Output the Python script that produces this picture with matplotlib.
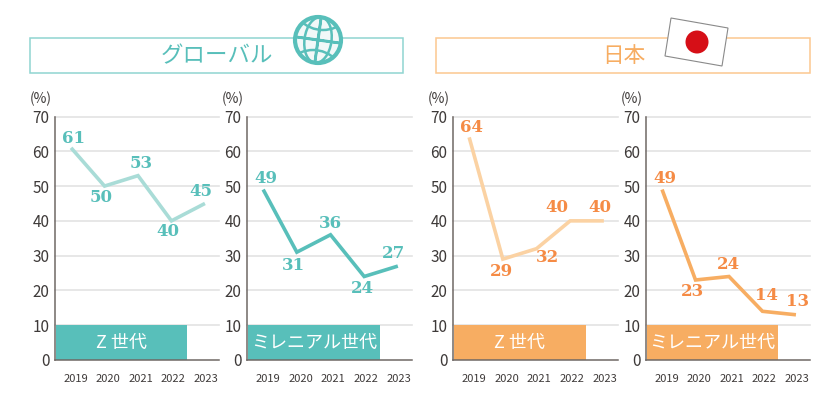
import numpy as np
import matplotlib
matplotlib.use("Agg")
import matplotlib.pyplot as plt
from matplotlib.patches import Circle, Ellipse, Polygon, Rectangle

plt.rcParams["font.family"] = ["Noto Sans CJK JP", "DejaVu Sans"]

# ======================
# DATA
# ======================
YEARS = [2019, 2020, 2021, 2022, 2023]
Y_TICKS = [0, 10, 20, 30, 40, 50, 60, 70]

GLOBAL_Z = [61, 50, 53, 40, 45]
GLOBAL_MILLENNIAL = [49, 31, 36, 24, 27]
JAPAN_Z = [64, 29, 32, 40, 40]
JAPAN_MILLENNIAL = [49, 23, 24, 14, 13]

LABEL_Z = "Z 世代"
LABEL_MILLENNIAL = "ミレニアル世代"
TITLE_GLOBAL = "グローバル"
TITLE_JAPAN = "日本"

# ======================
# STYLE
# ======================
W, H = 840, 400
TEAL = "#58bfba"
TEAL_LIGHT = "#a9dcd7"
TEAL_BOX = "#8fd5d1"
ORANGE = "#f7ad62"
ORANGE_LIGHT = "#fbd2a3"
ORANGE_BOX = "#fcc78f"
ORANGE_TEXT = "#f58b45"
GREY = "#6f6865"
GRID = "#e3e3e3"
TEXT = "#3e3a39"

Y0, Y70 = 360, 116.5  # pixel rows of 0 and 70

# left, right, values, line colour, banner colour, label colour, banner text, label offsets in px
PANELS = [
    (55, 219, GLOBAL_Z, TEAL_LIGHT, TEAL, TEAL, LABEL_Z,
     [(2, 9), (-3, -11), (3, 12), (-4, -11), (-4, 12)]),
    (247, 412, GLOBAL_MILLENNIAL, TEAL, TEAL, TEAL, LABEL_MILLENNIAL,
     [(3, 11), (-3, -13), (0, 11), (-2, -12), (-4, 13)]),
    (453, 618, JAPAN_Z, ORANGE_LIGHT, ORANGE, ORANGE_TEXT, LABEL_Z,
     [(2, 10), (-1, -12), (11, -9), (-13, 13), (-4, 13)]),
    (646, 810, JAPAN_MILLENNIAL, ORANGE, ORANGE, ORANGE_TEXT, LABEL_MILLENNIAL,
     [(3, 11), (-3, -12), (-1, 12), (4, 16), (2, 13)]),
]

fig = plt.figure(figsize=(W / 100, H / 100), dpi=100)

# ======================
# PANELS
# ======================
for left, right, values, line_c, banner_c, label_c, banner_text, offsets in PANELS:
    ax = fig.add_axes([left / W, 1 - Y0 / H, (right - left) / W, (Y0 - Y70) / H])
    xs = np.arange(len(YEARS))
    ax.set_xlim(-0.48, 4.42)
    ax.set_ylim(0, 70)

    ax.set_yticks(Y_TICKS)
    ax.tick_params(axis="y", length=0, pad=4, labelsize=11, labelcolor=TEXT)
    ax.set_xticks(xs * 0.97 + 0.14)
    ax.set_xticklabels(YEARS)
    ax.tick_params(axis="x", length=0, pad=10, labelsize=8, labelcolor=TEXT)

    for v in Y_TICKS[1:]:
        ax.axhline(v, color=GRID, lw=1.2, zorder=1, clip_on=False)
    for s in ["top", "right"]:
        ax.spines[s].set_visible(False)
    for s in ["left", "bottom"]:
        ax.spines[s].set_color(GREY)
        ax.spines[s].set_linewidth(1.1)

    ax.add_patch(Rectangle((-0.46, 0), 3.93, 10, color=banner_c, lw=0, zorder=2))
    ax.text(1.505, 4.9, banner_text, color="white", fontsize=13,
            ha="center", va="center", zorder=3)

    ax.plot(xs, values, color=line_c, lw=2.6, zorder=4, solid_capstyle="butt",
            solid_joinstyle="miter", clip_on=False)
    for x, v, (dx, dy) in zip(xs, values, offsets):
        ax.annotate(str(v), (x, v), xytext=(dx * 0.72, dy * 0.72),
                    textcoords="offset points", ha="center", va="center",
                    color=label_c, fontsize=12, fontweight="bold",
                    family="DejaVu Serif", zorder=5, annotation_clip=False)

    fig.text((left - 14) / W, 1 - 99 / H, "(%)", color=TEXT, fontsize=10,
             ha="center", va="center")

# ======================
# HEADERS (overlay in pixel coordinates)
# ======================
top = fig.add_axes([0, 0, 1, 1], facecolor="none")
top.set_xlim(0, W)
top.set_ylim(H, 0)
top.axis("off")

top.add_patch(Rectangle((30, 38), 373, 35, fill=False, ec=TEAL_BOX, lw=1.1))
top.add_patch(Rectangle((436, 38), 374, 35, fill=False, ec=ORANGE_BOX, lw=1.1))
top.text(217, 56, TITLE_GLOBAL, color=TEAL, fontsize=16.2, ha="center", va="center")
top.text(624, 56, TITLE_JAPAN, color=ORANGE, fontsize=15.6, ha="center", va="center")

# globe
cx, cy = 318, 40
ball = Circle((cx, cy), 23, fc="#f1f8f8", ec=TEAL, lw=3.0, zorder=5)
top.add_patch(ball)
clip = Circle((cx, cy), 23, transform=top.transData)
for shape in [
    Ellipse((cx, cy), 27, 46, angle=8),
    Ellipse((cx, cy), 0.5, 46, angle=8),
    Ellipse((cx + 5, cy - 42), 64, 64, angle=0),
    Ellipse((cx - 5, cy + 42), 64, 64, angle=0),
    Ellipse((cx, cy), 46, 0.5, angle=8),
]:
    shape.set(fill=False, ec=TEAL, lw=1.8, zorder=6)
    top.add_patch(shape)
    shape.set_clip_path(clip)

# flag
top.add_patch(Polygon([(671, 18), (728, 28), (722, 66), (665, 56)], closed=True,
                      fc="white", ec="#8a8a8a", lw=0.8, zorder=5))
top.add_patch(Circle((697, 42), 11.5, fc="#d60f17", ec="none", zorder=6))

fig.savefig("out.png", dpi=100, facecolor="white")
